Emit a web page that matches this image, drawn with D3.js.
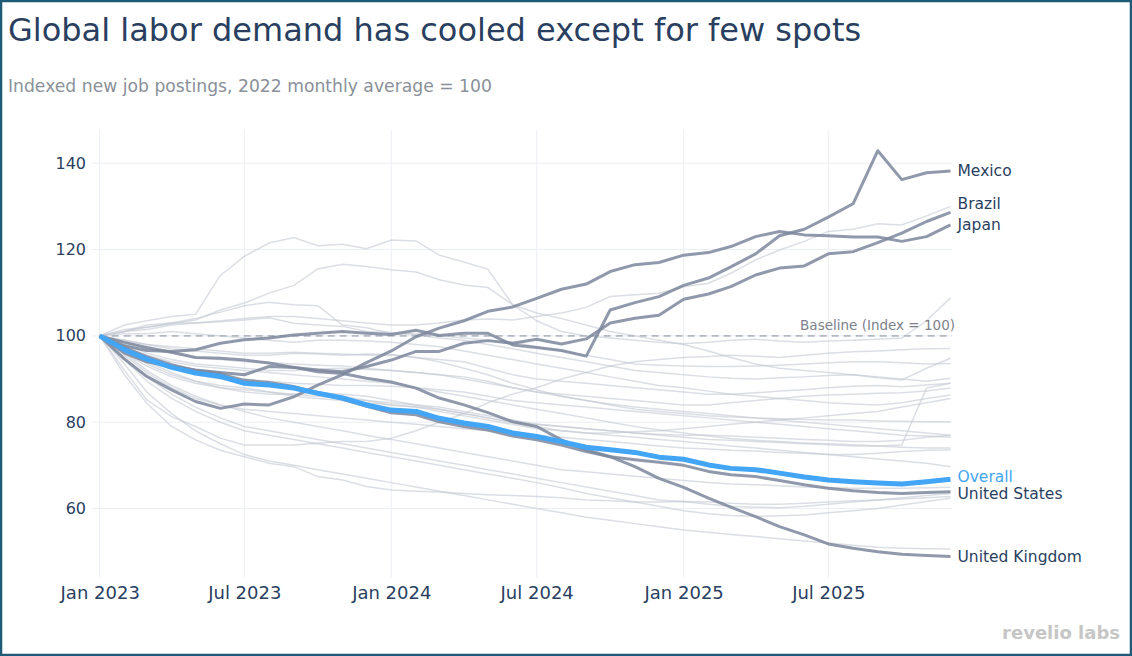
<!DOCTYPE html>
<html lang="en">
<head>
<meta charset="utf-8">
<title>Global labor demand</title>
<script src="https://cdn.jsdelivr.net/npm/d3@7"></script>
<style>
  html, body { margin: 0; padding: 0; background: #fff; }
  svg { display: block; font-family: "DejaVu Sans", Verdana, sans-serif; }
</style>
</head>
<body>
<svg id="chart" width="1132" height="656"></svg>
<script>
// months on the x axis
var months = ["2023-01","2023-02","2023-03","2023-04","2023-05","2023-06","2023-07","2023-08","2023-09","2023-10","2023-11","2023-12",
              "2024-01","2024-02","2024-03","2024-04","2024-05","2024-06","2024-07","2024-08","2024-09","2024-10","2024-11","2024-12",
              "2025-01","2025-02","2025-03","2025-04","2025-05","2025-06","2025-07","2025-08","2025-09","2025-10","2025-11","2025-12"];

var yTicks = [60, 80, 100, 120, 140];
var xTicks = ["2023-01","2023-07","2024-01","2024-07","2025-01","2025-07"];

// highlighted series
var overall       = [100,96.8,94.6,92.7,91.4,90.6,89,88.6,87.9,86.7,85.6,84,82.8,82.5,80.9,79.8,79,77.5,76.7,75.5,74.2,73.6,73,71.9,71.4,70.1,69.3,69,68.2,67.3,66.6,66.2,65.9,65.7,66.2,66.8];
var unitedStates  = [100,97.3,95.2,93.3,92,91.2,89.7,89.2,88.3,86.8,85.3,83.7,82.2,81.7,80.1,79,78.2,76.8,75.9,74.7,73.2,72,71.3,70.7,70,68.6,67.8,67.4,66.5,65.5,64.7,64.1,63.7,63.5,63.7,63.9];
var unitedKingdom = [100,98.5,97.3,96.2,95,94.8,94.4,93.7,92.7,91.7,91.3,90.2,89.3,87.9,85.6,84,82.2,80.1,79,75.9,73.6,72,69.7,67,64.9,62.4,60.3,58.1,55.8,53.9,51.8,50.8,50,49.4,49.1,48.9];
var mexico        = [100,97.7,96.6,96.4,96.8,98.3,99.1,99.5,100.2,100.6,101,100.6,100.3,101.3,100.1,100.6,100.6,97.9,97.3,96.6,95.3,106,107.7,109.1,111.7,113.4,116,119,123.2,124.7,127.5,130.6,142.9,136.2,137.8,138.2];
var brazil        = [100,96,94,92.9,92.1,91.5,91,92.9,92.7,92.1,91.7,92.9,94.4,96.4,96.4,98.3,98.9,98.3,99.2,98.1,99.3,103,104.1,104.8,108.5,109.7,111.4,114.1,115.7,116.2,119,119.5,121.6,123.8,126.5,128.6];
var japan         = [100,94.6,90.6,87.5,84.8,83.2,84.2,84,85.9,88.6,91,93.8,96.5,99.8,101.8,103.5,105.7,106.7,108.7,110.8,112,114.9,116.5,117,118.7,119.3,120.7,123,124.2,123.4,123.2,122.9,122.9,121.9,123,125.7];

// the other countries, drawn faintly behind
var otherCountries = [
  [100,102.5,103.5,104.5,105,114,118.4,121.5,122.8,120.9,121.2,120.2,122.2,122,118.7,117.1,115.4,107.2,103.5,101,100,99.5,99,98.5,98.2,98.5,99,99.2,98.8,98.5,98.8,99,99.2,99.5,103.5,108.8],
  [100,101.5,102,102.8,103.7,106,107.6,109.9,111.7,115.5,116.6,116.1,115.3,114.8,113,111.8,111.2,107.2,105.3,104,102.5,101,100,99,98,96.5,95,93.5,92.5,92,91.5,91,90.3,89.8,92.5,94.8],
  [100,101,102,103,104,105.5,107,107.8,107.2,107,102.5,101.9,100.6,100.5,100,99.5,99,98.5,97.5,96.5,95.5,94.5,93.5,93.2,93,92.9,92.9,93,93.2,93.5,93.8,94,94,93.8,93.5,93.6],
  [100,101,102.5,103,103,103.5,104,104.5,104.5,104,103.5,103,102.5,102.5,103,103.7,103.9,103.7,104.5,105.3,106.6,109.1,109.5,109.9,111.4,112.2,114.5,117.6,119.9,121.9,124.2,124.7,126,125.7,127.8,130],
  [100,101,101.5,102.5,103,103.3,103.7,104.2,102.9,102.5,102.2,101,100.8,100.2,99.5,99,98,97,96,95,94,93,92,91.5,91,90.5,90.2,90,90.3,90.5,90.8,91,90.5,90,89.5,90.2],
  [100,100.5,100.5,101,100.5,100,99.5,99,98.5,99,99,98.8,98.5,98,97.5,96.5,95.5,94.5,93.5,92.5,91.5,90.5,89.5,88.5,88,87.2,86.5,86,85.5,85,84.5,84.2,84,84.5,85.5,86.3],
  [100,99,98,97,96.5,96,95.5,95.5,96,95.8,95.5,95.8,95.6,95,94.5,94,92.5,91,90,89.5,89,88.5,88,87.5,87,86.5,86.5,86.8,87.2,87.5,88,88.3,88.5,88.2,88.6,89],
  [100,98,96,94.5,93.5,93,92.5,92,92,92.3,92.5,92.2,92,91.5,91,90.5,89.5,88,87,86.5,86,85.5,85,84.5,84,84,84.5,85,85.5,86,86.3,86.5,86.7,86.8,87.2,87.9],
  [100,97.5,95,93,91.5,90.5,90,89.5,89,88.8,88.5,88.5,88.3,88,87.5,87,86,85,84.5,84,83.5,83,82.5,82,81.5,81,80.5,80,79.5,79,78.5,78,77.5,77,76.8,76.5],
  [100,96,93,90.5,89,88,87.5,87,86.5,86,85.5,85,84.5,84,83.5,82.5,81.5,80.5,79.5,79,78.5,78,77.5,77,76.5,76,75.8,75.5,75.3,75,74.8,74.5,74.5,74.7,87.9,89],
  [100,96.5,93.5,91,89.5,88.5,88,87,86,85.5,85,84.5,84,83.5,82.5,81.5,80.5,79.5,78.5,78,77.5,77.5,77.8,78,78.5,79,79.5,80,80.5,81,81.5,82,82.5,83.5,84.5,85.5],
  [100,97,94,91.5,89.5,88,87,86.5,86.5,86.8,86.5,86,85,84,83,82,81,80,79.5,79,78.5,78,77.5,77.2,77,77,76.8,76.5,76.3,76,75.8,75.5,75.5,75.8,76.5,77],
  [100,95.5,91.5,88,85.5,84,83,82.5,82,81.5,81,80.5,80,79.5,79,78.5,78,77.5,77,76.5,76,75.5,75,74.5,74,73.8,73.5,73.3,73,72.8,72.5,72.5,72.8,73.2,73.5,73.6],
  [100,92,85.2,81.3,79,76.3,74.7,74.7,74.7,75.1,75.5,75.5,76.3,78,80,82,84.5,86.5,88,90,91.5,93,94,94.5,95,95.2,95.5,95.3,95,95.5,96,96.3,96.5,96.8,97,97.1],
  [100,91,84.4,79,75.9,73.5,72,70.5,69.7,67.4,66.6,65.1,64.3,64,63.8,63.5,63.2,63,62.8,62.5,62,61.8,61.5,61.5,61.6,61.5,61.2,61,61,61.2,61.5,61.8,62,62.2,62.5,62.8],
  [100,93.5,87,82,78,75,72.5,71,70,69,68,67,66,65,64,63,62,61,60,59,58,57.3,56.5,55.8,55,54.5,54,53.5,53,52.5,52,51.5,51,50.8,50.7,50.6],
  [100,95,90.5,86.5,83.5,81,79,78,77,76,75,74,73,72,71,70,69,68,67,66,65,64,63,62,61.6,61,60.5,60.3,60.2,60.5,61,61.5,62,62.5,63,63.5],
  [100,94.5,89.5,85.5,82.5,80,78,77,76,75,74,73,72,71,70,69,68,67,66,64.8,63.5,62.5,61.5,60.5,59.5,58.8,58.4,58.2,58.3,58.5,59,59.5,60,60.8,61.6,62.4],
  [100,97,94.5,92.5,91,90,89,88.5,88,87,86,85,84,83.5,83,82,81,80,79,78,77.5,77,76.5,76,75.5,75,74.5,74,73.5,73,72.5,72,71.5,71,70.5,69.7],
  [100,98.5,97,96,95,94.5,94,93.8,93.5,93.2,93,92.5,92,91.5,91,90,89,88,87,86,85,84.2,83.5,83,82.5,82,81.5,81,80.5,80,79.5,79,78.5,78,77.5,77],
  [100,97.5,95.5,94,93,92.5,92,91.5,91,90.5,90,89.5,89,88,87,86,85,84,83,82,81,80,79,78.2,77.5,76.8,76.2,75.8,75.5,75.2,75,74.8,74.5,74.2,74,74],
  [100,99,98,97.5,97,96.5,96,96,96.2,96,95.8,95.5,95.6,95,94,92.5,91,89,87.5,86,85,84,83,82.5,82,81.5,81.2,81,80.8,80.6,80.5,80.5,80.3,80.2,80.1,80.1],
  [100,96,92,88.5,86,84,82.5,81,80,79,78,77,76,75,74,73,72,71,70,69,68.5,68,67.5,67,66.5,66,65.7,65.5,65.3,65,64.8,64.7,64.7,64.7,64.8,64.9]
];

var highlighted = [
  { name: "Mexico",         values: mexico },
  { name: "Brazil",         values: brazil,        nudge: -9 },
  { name: "Japan",          values: japan },
  { name: "United Kingdom", values: unitedKingdom },
  { name: "United States",  values: unitedStates,  nudge: 2 },
  { name: "Overall",        values: overall,       nudge: -3, blue: true }
];

var W = 1132, H = 656;
var plot = { left: 92, right: 952, top: 130, bottom: 578 };

var parse = d3.timeParse("%Y-%m");
var dates = months.map(parse);

var x = d3.scaleTime()
    .domain([dates[0], dates[dates.length - 1]])
    .range([99.7, 950.5]);
var y = d3.scaleLinear()
    .domain([43.9, 147.7])
    .range([plot.bottom, plot.top]);

var svg = d3.select("#chart");

svg.append("rect").attr("width", W).attr("height", H).attr("fill", "#fff");

// grid
var grid = svg.append("g");
grid.selectAll(".gy").data(yTicks).enter().append("line")
    .attr("x1", plot.left).attr("x2", plot.right)
    .attr("y1", function(d){ return y(d); }).attr("y2", function(d){ return y(d); })
    .attr("stroke", "#ebeef3").attr("stroke-width", 1);
grid.selectAll(".gx").data(xTicks.map(parse)).enter().append("line")
    .attr("x1", function(d){ return x(d); }).attr("x2", function(d){ return x(d); })
    .attr("y1", plot.top).attr("y2", plot.bottom)
    .attr("stroke", "#ebeef3").attr("stroke-width", 1);

// axes (labels only)
var yAxis = svg.append("g")
    .attr("transform", "translate(86,0)")
    .call(d3.axisLeft(y).tickValues(yTicks).tickSize(0).tickPadding(0));
yAxis.select(".domain").remove();
yAxis.selectAll("text")
    .attr("fill", "#2a3f5f").style("font-size", "16px")
    .style("font-family", "DejaVu Sans, Verdana, sans-serif");

var xAxis = svg.append("g")
    .attr("transform", "translate(0,580)")
    .call(d3.axisBottom(x).tickValues(xTicks.map(parse)).tickFormat(d3.timeFormat("%b %Y")).tickSize(0).tickPadding(6));
xAxis.select(".domain").remove();
xAxis.selectAll("text")
    .attr("fill", "#2a3f5f").style("font-size", "18px")
    .style("font-family", "DejaVu Sans, Verdana, sans-serif");

var line = d3.line()
    .x(function(d, i){ return x(dates[i]); })
    .y(function(d){ return y(d); });

// background countries
svg.append("g").selectAll("path").data(otherCountries).enter().append("path")
    .attr("d", line)
    .attr("fill", "none")
    .attr("stroke", "#c3c8d2")
    .attr("stroke-opacity", 0.6)
    .attr("stroke-width", 1.5);

// baseline
svg.append("line")
    .attr("x1", x(dates[0])).attr("x2", plot.right)
    .attr("y1", y(100)).attr("y2", y(100))
    .attr("stroke", "#b4b9c3").attr("stroke-width", 1.6)
    .attr("stroke-dasharray", "7,5");
svg.append("text")
    .attr("x", 955).attr("y", y(100) - 6)
    .attr("text-anchor", "end")
    .attr("fill", "#7c818b").style("font-size", "13.5px")
    .text("Baseline (Index = 100)");

// highlighted countries
svg.append("g").selectAll("path").data(highlighted).enter().append("path")
    .attr("d", function(d){ return line(d.values); })
    .attr("fill", "none")
    .attr("stroke", function(d){ return d.blue ? "#42a5f5" : "#7d879c"; })
    .attr("stroke-opacity", function(d){ return d.blue ? 1 : 0.85; })
    .attr("stroke-width", function(d){ return d.blue ? 5 : 3; })
    .attr("stroke-linejoin", "round");

svg.append("g").selectAll("text").data(highlighted).enter().append("text")
    .attr("x", x(dates[dates.length - 1]) + 7)
    .attr("y", function(d){ return y(d.values[d.values.length - 1]) + (d.nudge || 0); })
    .attr("dy", "0.35em")
    .attr("fill", function(d){ return d.blue ? "#42a5f5" : "#2a3f5f"; })
    .style("font-size", "15.5px")
    .text(function(d){ return d.name; });

// titles
svg.append("text")
    .attr("x", 8).attr("y", 41)
    .attr("fill", "#2a3f5f").style("font-size", "32px")
    .text("Global labor demand has cooled except for few spots");
svg.append("text")
    .attr("x", 8).attr("y", 92)
    .attr("fill", "#8a9099").style("font-size", "17.2px")
    .text("Indexed new job postings, 2022 monthly average = 100");

// watermark
svg.append("text")
    .attr("x", 1120).attr("y", 639)
    .attr("text-anchor", "end")
    .attr("fill", "#c6c6c6").style("font-size", "18px").style("font-weight", "bold")
    .text("revelio labs");

// frame
svg.append("rect")
    .attr("x", 1).attr("y", 1).attr("width", W - 2).attr("height", H - 2)
    .attr("fill", "none").attr("stroke", "#1d5b79").attr("stroke-width", 2.5);
</script>
</body>
</html>
